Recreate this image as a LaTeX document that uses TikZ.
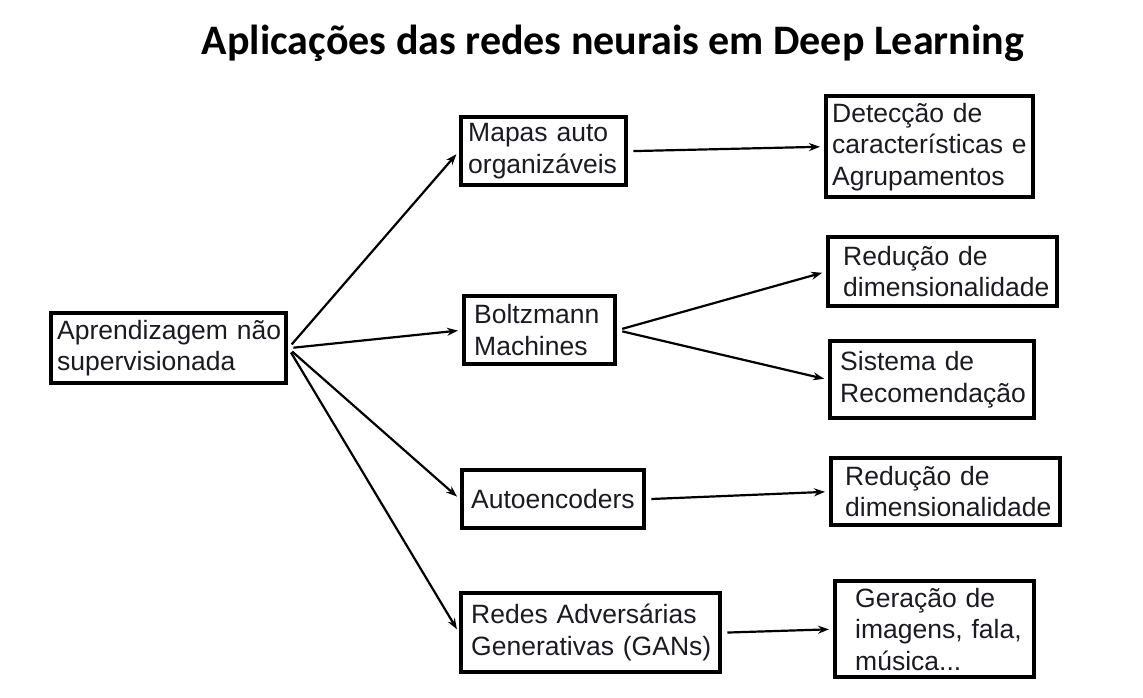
\documentclass[tikz,border=0pt]{standalone}
\usepackage{fontspec}
\setmainfont{Liberation Sans}
\newfontfamily\titlefont{Carlito}
\usetikzlibrary{arrows.meta}
\definecolor{txt}{HTML}{1A1A22}
\tikzset{
  box/.style={draw=black, line width=4.4pt, anchor=north west, align=left,
    inner ysep=0pt, text=txt,
    font=\fontsize{26.5}{31.5}\selectfont},
  conn/.style={line width=2.2pt, -{Stealth[length=11pt,width=8pt]},
    shorten >=4pt, shorten <=5pt}
}
\begin{document}
\begin{tikzpicture}[x=1pt,y=-1pt]
\useasboundingbox (0,0) rectangle (1143,697);
\node[anchor=base, font=\titlefont\bfseries\fontsize{42}{48}\selectfont] (title) at (613,54) {Aplicações das redes neurais em Deep Learning};

\node[box, minimum height=70pt, inner xsep=6pt, text width=223pt] (root) at (49,311) {Aprendizagem~não\\supervisionada};

\node[box, minimum height=68pt, inner xsep=7pt, text width=151pt] (som) at (459,115) {Mapas~auto\\organizáveis};
\node[box, minimum height=68pt, inner xsep=10pt, text width=131pt] (bm) at (462,294) {Boltzmann\\Machines};
\node[box, minimum height=58pt, inner xsep=9pt, text width=164pt] (ae) at (460,468) {Autoencoders};
\node[box, minimum height=79pt, inner xsep=10pt, text width=239pt] (gan) at (459,591) {Redes~Adversárias\\Generativas~(GANs)};

\node[box, minimum height=101pt, inner xsep=6pt, text width=195pt] (det) at (824,94) {Detecção~de\\características~e\\Agrupamentos};
\node[box, minimum height=69pt, inner xsep=15pt, text width=199pt] (red1) at (826,235) {Redução~de\\dimensionalidade};
\node[box, minimum height=77pt, inner xsep=10pt, text width=184pt] (rec) at (828,339) {Sistema~de\\Recomendação};
\node[box, minimum height=67pt, inner xsep=14pt, text width=201pt] (red2) at (829,456) {Redução~de\\dimensionalidade};
\node[box, minimum height=96pt, inner xsep=20pt, text width=159pt] (gen) at (833,579) {Geração~de\\imagens,~fala,\\música...};

\draw[conn] (root.east) -- (som.west);
\draw[conn] (root.east) -- (bm.west);
\draw[conn] (root.east) -- (ae.west);
\draw[conn] (root.east) -- (gan.west);
\draw[conn] (som.east) -- (det.west);
\draw[conn] (bm.east) -- (red1.west);
\draw[conn] (bm.east) -- (rec.west);
\draw[conn] (ae.east) -- (red2.west);
\draw[conn] (gan.east) -- (gen.west);
\end{tikzpicture}
\end{document}
